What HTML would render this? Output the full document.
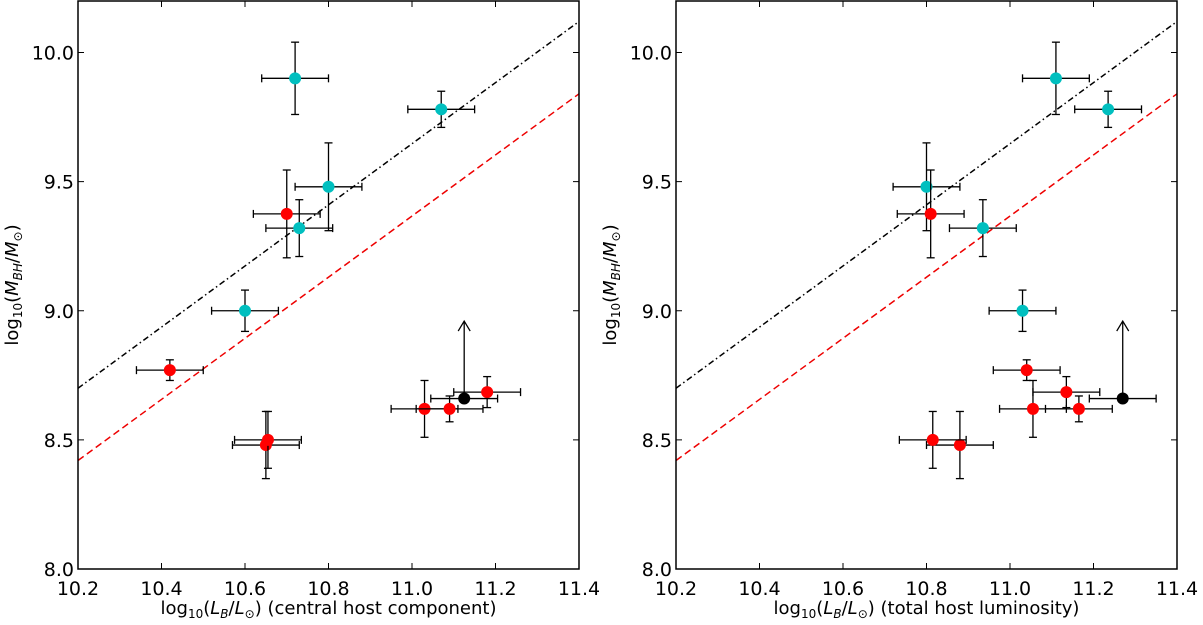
<!DOCTYPE html>
<html><head><meta charset="utf-8"><style>body{margin:0;background:#fff}svg text{font-family:"DejaVu Sans","Liberation Sans",sans-serif}</style></head>
<body>
<svg id="chart" width="1203" height="620" xmlns="http://www.w3.org/2000/svg"></svg>
<script>
const xTicks=[10.2,10.4,10.6,10.8,11.0,11.2,11.4];
const yTicks=[8.0,8.5,9.0,9.5,10.0];
const leftCyanX=[10.72,11.07,10.80,10.73,10.60];
const leftCyanY=[9.90,9.78,9.48,9.32,9.00];
const leftCyanYerr=[0.14,0.07,0.17,0.11,0.08];
const leftRedX=[10.70,10.42,10.65,10.655,11.03,11.09,11.18];
const leftRedY=[9.375,8.77,8.48,8.50,8.62,8.62,8.685];
const leftRedYerr=[0.17,0.04,0.13,0.11,0.11,0.05,0.06];
const rightCyanX=[11.11,11.235,10.80,10.935,11.03];
const rightRedX=[10.81,11.04,10.88,10.815,11.055,11.165,11.135];
const blackLeftX=11.125, blackRightX=11.27, blackY=8.66, blackArrowTop=8.96;
const xErr=0.08;
const lineX=[10.2,11.4];
const blackLineY=[8.70,10.12];
const redLineY=[8.42,9.84];
const panels=[
 {left:78,name:"left",cx:leftCyanX,rx:leftRedX,bx:blackLeftX},
 {left:676,name:"right",cx:rightCyanX,rx:rightRedX,bx:blackRightX}];
const svg=document.getElementById('chart');
const NS="http://www.w3.org/2000/svg";
function mk(t,a,p){const e=document.createElementNS(NS,t);for(const k in a)e.setAttribute(k,a[k]);(p||svg).appendChild(e);return e;}
const W=501,TOP=1,BOT=569;
const yS=v=>569-(v-8)*258.25;
panels.forEach(p=>{
 const xS=v=>p.left+(v-10.2)/1.2*W;
 const g=mk('g',{});
 
 
 const l1=mk('line',{x1:xS(lineX[0]),y1:yS(blackLineY[0]),x2:xS(lineX[1]),y2:yS(blackLineY[1]),stroke:'#000','stroke-width':1.5,'stroke-dasharray':'6,3,1.5,3'},g);
 
 const l2=mk('line',{x1:xS(lineX[0]),y1:yS(redLineY[0]),x2:xS(lineX[1]),y2:yS(redLineY[1]),stroke:'#e00','stroke-width':1.5,'stroke-dasharray':'7,4'},g);
 
 function pt(x,y,ye,col,nm){
  const e=mk('g',{},g);
  
  const X=xS(x),Y=yS(y),x0=xS(x-xErr),x1=xS(x+xErr);
  mk('line',{x1:x0,y1:Y,x2:x1,y2:Y,stroke:'#000','stroke-width':1.3},e);
  mk('line',{x1:x0,y1:Y-4,x2:x0,y2:Y+4,stroke:'#000','stroke-width':1.3},e);
  mk('line',{x1:x1,y1:Y-4,x2:x1,y2:Y+4,stroke:'#000','stroke-width':1.3},e);
  if(ye>0){const a=yS(y+ye),b=yS(y-ye);
   mk('line',{x1:X,y1:a,x2:X,y2:b,stroke:'#000','stroke-width':1.3},e);
   mk('line',{x1:X-4,y1:a,x2:X+4,y2:a,stroke:'#000','stroke-width':1.3},e);
   mk('line',{x1:X-4,y1:b,x2:X+4,y2:b,stroke:'#000','stroke-width':1.3},e);}
  mk('circle',{cx:X,cy:Y,r:6,fill:col},e);
 }
 p.cx.forEach((x,i)=>pt(x,leftCyanY[i],leftCyanYerr[i],'#00bfbf','cyan-point'));
 p.rx.forEach((x,i)=>pt(x,leftRedY[i],leftRedYerr[i],'#f00','red-point'));
 pt(p.bx,blackY,0,'#000','black-limit-point');
 const X=xS(p.bx),t=yS(blackArrowTop);
 mk('line',{x1:X,y1:yS(blackY),x2:X,y2:t,stroke:'#000','stroke-width':1.3},g);
 mk('path',{d:`M${X-6},${t+10} L${X},${t} L${X+6},${t+10}`,fill:'none',stroke:'#000','stroke-width':1.3},g);
 const f=mk('rect',{x:p.left,y:TOP,width:W,height:BOT-TOP,fill:'none',stroke:'#000','stroke-width':1.5},g);
 
 xTicks.forEach(v=>{const x=xS(v);
  mk('line',{x1:x,y1:BOT,x2:x,y2:BOT-6,stroke:'#000'},g);mk('line',{x1:x,y1:TOP,x2:x,y2:TOP+6,stroke:'#000'},g);
  const tx=mk('text',{x:x,y:595,'font-size':19,'text-anchor':'middle'},g);tx.textContent=v.toFixed(1);
  });
 yTicks.forEach(v=>{const y=yS(v);
  mk('line',{x1:p.left,y1:y,x2:p.left+6,y2:y,stroke:'#000'},g);mk('line',{x1:p.left+W,y1:y,x2:p.left+W-6,y2:y,stroke:'#000'},g);
  const tx=mk('text',{x:p.left-4,y:y+7,'font-size':19,'text-anchor':'end'},g);tx.textContent=v.toFixed(1);
  });
 const xl=mk('text',{x:p.left+W/2,y:614,'font-size':18,'text-anchor':'middle'},g);
 xl.innerHTML='log<tspan font-size="12" dy="4">10</tspan><tspan dy="-4">(</tspan><tspan font-style="italic">L</tspan><tspan font-size="12" dy="4" font-style="italic">B</tspan><tspan dy="-4">/</tspan><tspan font-style="italic">L</tspan><tspan font-size="12" dy="4">⊙</tspan><tspan dy="-4">) '+(p.name==='left'?'(central host component)':'(total host luminosity)')+'</tspan>';
 
 const yl=mk('text',{transform:`translate(${p.left-60},285) rotate(-90)`,'font-size':18,'text-anchor':'middle'},g);
 yl.innerHTML='log<tspan font-size="12" dy="4">10</tspan><tspan dy="-4">(</tspan><tspan font-style="italic">M</tspan><tspan font-size="12" dy="4" font-style="italic">BH</tspan><tspan dy="-4">/</tspan><tspan font-style="italic">M</tspan><tspan font-size="12" dy="4">⊙</tspan><tspan dy="-4">)</tspan>';
 
});
</script>
</body></html>
